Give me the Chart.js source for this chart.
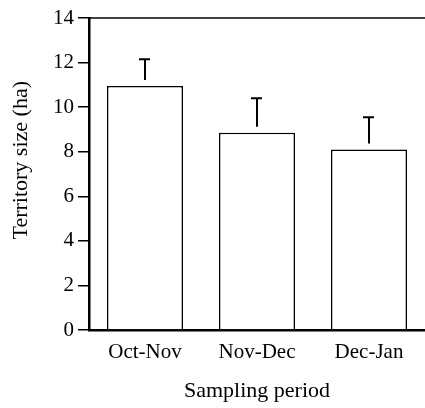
<!DOCTYPE html>
<html>
<head>
<meta charset="utf-8">
<script src="https://cdn.jsdelivr.net/npm/chart.js@4"></script>
<style>
html,body{margin:0;padding:0;background:#fff;}
#wrap{width:425px;height:408px;}
</style>
</head>
<body>
<div id="wrap"><canvas id="c" width="425" height="408"></canvas></div>
<script>
const categories = ["Oct-Nov", "Nov-Dec", "Dec-Jan"];
const territorySize = [10.95, 8.85, 8.1];
const errorUpper = [12.15, 10.4, 9.55];
const yTicks = [0, 2, 4, 6, 8, 10, 12, 14];

const FONT = "'Liberation Serif', 'DejaVu Serif', serif";

const errorBars = {
  id: 'errorBars',
  afterDatasetsDraw(chart) {
    const ctx = chart.ctx;
    const meta = chart.getDatasetMeta(0);
    const y = chart.scales.y;
    ctx.save();
    ctx.strokeStyle = '#000';
    ctx.lineWidth = 2;
    meta.data.forEach((bar, i) => {
      const x = bar.x;
      const yb = y.getPixelForValue(territorySize[i]) - 6;
      const yt = y.getPixelForValue(errorUpper[i]);
      ctx.beginPath();
      ctx.moveTo(x, yb);
      ctx.lineTo(x, yt);
      ctx.moveTo(x - 6, yt);
      ctx.lineTo(x + 5, yt);
      ctx.stroke();
    });
    // top frame line
    const a = chart.chartArea;
    ctx.lineWidth = 1.5;
    ctx.beginPath();
    ctx.moveTo(a.left, a.top);
    ctx.lineTo(a.right, a.top);
    ctx.stroke();
    ctx.restore();
  }
};

new Chart(document.getElementById('c'), {
  type: 'bar',
  data: {
    labels: categories,
    datasets: [{
      data: territorySize,
      backgroundColor: '#fff',
      borderColor: '#000',
      borderWidth: 1.6,
      barPercentage: 0.68,
      categoryPercentage: 1.0
    }]
  },
  options: {
    responsive: false,
    animation: false,
    devicePixelRatio: 1,
    layout: { padding: { top: 18, right: 0, left: 0, bottom: 0 } },
    plugins: { legend: { display: false }, tooltip: { enabled: false } },
    scales: {
      x: {
        grid: { display: false, tickLength: 0 },
        border: { color: '#000', width: 2.5 },
        ticks: { color: '#000', font: { family: FONT, size: 21 }, padding: 10, maxRotation: 0 },
        title: { display: true, text: 'Sampling period', color: '#000', font: { family: FONT, size: 22 }, padding: { top: 4, bottom: 4 } },
        afterFit(s) { s.height = 78; }
      },
      y: {
        min: 0, max: 14,
        afterBuildTicks(s) { s.ticks = yTicks.map(v => ({ value: v })); },
        grid: { drawOnChartArea: false, color: '#000', tickLength: 11, lineWidth: 1.5 },
        border: { color: '#000', width: 2.5 },
        ticks: { color: '#000', font: { family: FONT, size: 21 }, padding: 4 },
        title: { display: true, text: '     Territory size (ha)', color: '#000', font: { family: FONT, size: 22 }, padding: { top: 8, bottom: 4 } },
        afterFit(s) { s.width = 89; }
      }
    }
  },
  plugins: [errorBars]
});
</script>
</body>
</html>
